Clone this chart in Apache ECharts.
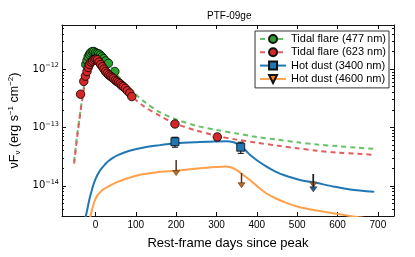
<!DOCTYPE html>
<html><head><meta charset="utf-8">
<script src="https://cdn.jsdelivr.net/npm/echarts@6/dist/echarts.min.js"></script>
<style>html,body{margin:0;padding:0;background:#fff}#c{width:415px;height:257px}</style>
</head><body><div id="c"></div>
<script>
// ---- data (days since peak, flux nuFnu in erg s^-1 cm^-2) ----
const xTicks = [0, 100, 200, 300, 400, 500, 600, 700];
const yTicks = [1e-14, 1e-13, 1e-12];

const greenModel = [[-53,2.6e-14],[-45,7.9e-14],[-37,2.0e-13],[-30,4.5e-13],[-25,7.1e-13],[-20,1.05e-12],[-15,1.41e-12],[-10,1.70e-12],[-5,1.86e-12],[0,1.91e-12],[10,1.82e-12],[20,1.58e-12],[30,1.32e-12],[40,1.05e-12],[50,8.5e-13],[70,6.0e-13],[90,4.3e-13],[120,2.8e-13],[160,1.82e-13],[200,1.38e-13],[250,1.07e-13],[300,9.1e-14],[350,7.9e-14],[400,6.9e-14],[450,6.2e-14],[500,5.6e-14],[550,5.1e-14],[600,4.8e-14],[650,4.5e-14],[690,4.3e-14]];
const redModel = [[-53,2.4e-14],[-45,7.1e-14],[-37,1.9e-13],[-30,4.0e-13],[-25,6.0e-13],[-20,8.5e-13],[-15,1.07e-12],[-10,1.26e-12],[-5,1.38e-12],[0,1.41e-12],[10,1.35e-12],[20,1.12e-12],[30,8.9e-13],[40,7.2e-13],[50,6.2e-13],[70,4.5e-13],[90,3.4e-13],[120,2.3e-13],[160,1.58e-13],[200,1.15e-13],[250,8.9e-14],[300,7.2e-14],[350,6.2e-14],[400,5.5e-14],[450,4.9e-14],[500,4.4e-14],[550,4.0e-14],[600,3.7e-14],[650,3.55e-14],[690,3.4e-14]];
const blueModel = [[-26,2.6e-15],[-22,3.5e-15],[-18,4.7e-15],[-14,6.3e-15],[-10,8.0e-15],[-5,1.05e-14],[0,1.3e-14],[5,1.55e-14],[11,1.82e-14],[18,2.1e-14],[25,2.4e-14],[33,2.7e-14],[44,3.05e-14],[57,3.4e-14],[70,3.7e-14],[94,4.15e-14],[120,4.55e-14],[152,4.9e-14],[199,5.35e-14],[250,5.6e-14],[300,5.75e-14],[325,5.8e-14],[340,5.65e-14],[352,5.25e-14],[362,4.7e-14],[373,4.0e-14],[383,3.4e-14],[400,2.75e-14],[424,2.14e-14],[445,1.78e-14],[465,1.55e-14],[507,1.26e-14],[540,1.15e-14],[589,9.8e-15],[631,8.7e-15],[691,7.9e-15]];
const orangeModel = [[-14,2.7e-15],[-9,3.8e-15],[-5,4.8e-15],[-1,5.75e-15],[4,6.75e-15],[10,7.6e-15],[19.5,8.7e-15],[35,1.0e-14],[52,1.15e-14],[80,1.35e-14],[110,1.55e-14],[150,1.7e-14],[199,1.82e-14],[259,2.0e-14],[300,2.1e-14],[322,2.14e-14],[335,2.08e-14],[348,1.9e-14],[360,1.66e-14],[372,1.43e-14],[383,1.26e-14],[400,1.0e-14],[424,7.4e-15],[445,6.2e-15],[465,5.4e-15],[507,4.3e-15],[548,3.8e-15],[589,3.4e-15],[639,3.0e-15],[690,2.7e-15]];

const greenObs = [[-24,1.20e-12],[-21,1.41e-12],[-18,1.62e-12],[-15,1.78e-12],[-12,1.91e-12],[-8,2.00e-12],[-4,2.00e-12],[0,1.91e-12],[4,1.86e-12],[8,1.82e-12],[12,1.74e-12],[16,1.62e-12],[20,1.51e-12],[25,1.38e-12],[32,1.26e-12],[48,9.1e-13]];
const redObs = [[-37,3.72e-13],[-29,6.17e-13],[-25,7.59e-13],[-21,9.12e-13],[-18,1.07e-12],[-15,1.20e-12],[-11,1.32e-12],[-7,1.38e-12],[-3,1.45e-12],[1,1.48e-12],[5,1.45e-12],[9,1.32e-12],[13,1.20e-12],[17,1.10e-12],[21,1.00e-12],[25,9.12e-13],[29,8.51e-13],[33,7.94e-13],[37,7.59e-13],[41,7.24e-13],[45,6.92e-13],[49,6.46e-13],[53,6.17e-13],[57,5.89e-13],[61,5.62e-13],[65,5.25e-13],[69,5.01e-13],[74,4.68e-13],[79,4.27e-13],[85,3.89e-13],[90,3.39e-13],[197,1.15e-13],[302,6.9e-14]];
const redErr = [[302,6.0e-14,7.8e-14]];
const blueObs = [[197,5.7e-14],[360,4.6e-14]];
const blueErr = [[197,4.6e-14,6.8e-14],[360,3.6e-14,5.6e-14]];
// upper limits: [day, limit value, arrow end value]
const orangeLimits = [[200,2.78e-14,1.5e-14],[362,1.66e-14,9.3e-15],[540,1.6e-14,9.5e-15]];
const blueLimits = [[540,1.6e-14,7.9e-15]];

const names = ['Tidal flare (477 nm)','Tidal flare (623 nm)','Hot dust (3400 nm)','Hot dust (4600 nm)'];

// ---- chart ----
const X_MIN = -83, X_MAX = 740, Y_MIN = 3.05e-15, Y_MAX = 5.7e-12;
const minorY = [];
for (let e = -15; e <= -12; e++) for (let k = 2; k <= 9; k++) { const v = k * Math.pow(10, e); if (v > Y_MIN && v < Y_MAX) minorY.push(v); }
const FONT = '"Liberation Sans", Arial, sans-serif';
const AX = '#111';

function expLabel(v) { const e = Math.round(Math.log10(v)); return '{b|10}{s|\u2212' + Math.abs(e) + '}'; }

function xAx(pos, main) {
  return {
    type: 'value', min: X_MIN, max: X_MAX, position: pos,
    axisLine: {show: true, onZero: false, lineStyle: {color: AX, width: 1}},
    axisTick: {show: true, inside: true, length: 4, customValues: xTicks, lineStyle: {color: AX}},
    axisLabel: main ? {customValues: xTicks, fontSize: 10, color: '#000', margin: 4, fontFamily: FONT} : {show: false},
    splitLine: {show: false},
    name: main ? 'Rest-frame days since peak' : '', nameLocation: 'middle', nameGap: 21,
    nameTextStyle: {fontSize: 13, color: '#000', fontFamily: FONT}
  };
}
function yAx(pos, minor, main) {
  return {
    type: 'log', logBase: 10, min: Y_MIN, max: Y_MAX, position: pos,
    axisLine: {show: !minor, onZero: false, lineStyle: {color: AX, width: 1}},
    axisTick: {show: true, inside: true, length: minor ? 2 : 4, customValues: minor ? minorY : yTicks, lineStyle: {color: AX}},
    axisLabel: main ? {customValues: yTicks, formatter: expLabel, margin: 3, color: '#000',
      rich: {b: {fontSize: 10, fontFamily: '"DejaVu Sans", sans-serif', color: '#000'},
             s: {fontSize: 6.5, fontFamily: '"DejaVu Sans", sans-serif', color: '#000', padding: [0, 0, 7, 0]}}} : {show: false},
    splitLine: {show: false}, minorTick: {show: false},
    name: main ? '\u03bdF{sub|\u03bd} (erg s{sup|\u22121} cm{sup|\u22122})' : '',
    nameLocation: 'middle', nameRotate: 90, nameGap: 33,
    nameTextStyle: {fontSize: 12.5, color: '#000', fontFamily: FONT,
      rich: {sub: {fontSize: 8, fontFamily: FONT, color: '#000', padding: [6, 0, 0, 0]},
             sup: {fontSize: 8, fontFamily: FONT, color: '#000', padding: [0, 0, 7, 0]}}}
  };
}

function errRender(params, api) {
  const x = api.value(0), p1 = api.coord([x, api.value(1)]), p2 = api.coord([x, api.value(2)]);
  const st = {stroke: '#222', lineWidth: 1.2};
  return {type: 'group', children: [
    {type: 'line', shape: {x1: p1[0], y1: p1[1], x2: p2[0], y2: p2[1]}, style: st},
    {type: 'line', shape: {x1: p1[0] - 3, y1: p1[1], x2: p1[0] + 3, y2: p1[1]}, style: st},
    {type: 'line', shape: {x1: p2[0] - 3, y1: p2[1], x2: p2[0] + 3, y2: p2[1]}, style: st}
  ]};
}
function arrowRender(shaft, head) {
  return function (params, api) {
    const x = api.value(0), p1 = api.coord([x, api.value(1)]), p2 = api.coord([x, api.value(2)]);
    return {type: 'group', children: [
      {type: 'line', shape: {x1: p1[0], y1: p1[1], x2: p2[0], y2: p2[1] - 2}, style: {stroke: shaft, lineWidth: 1.5}},
      {type: 'polygon', shape: {points: [[p2[0] - 3.5, p2[1] - 5], [p2[0] + 3.5, p2[1] - 5], [p2[0], p2[1]]]}, style: {fill: head, stroke: shaft, lineWidth: 0.6}}
    ]};
  };
}

const chart = echarts.init(document.getElementById('c'), null, {renderer: 'canvas'});
chart.setOption({
  animation: false,
  backgroundColor: '#fff',
  title: {text: 'PTF-09ge', left: 207, top: 11, padding: 0, textStyle: {fontSize: 10, fontWeight: 'normal', color: '#000', fontFamily: FONT}},
  grid: {left: 62, right: 21, top: 25, bottom: 41, containLabel: false, outerBoundsMode: 'none', show: false},
  legend: {
    data: names, orient: 'vertical', right: 26, top: 31,
    backgroundColor: '#fff', borderColor: '#333', borderWidth: 1, borderRadius: 0,
    padding: [2, 3, 3, 4], itemGap: 1.3, itemWidth: 26, itemHeight: 10,
    textStyle: {fontSize: 11, lineHeight: 12, color: '#000', fontFamily: FONT}
  },
  xAxis: [xAx('bottom', true), xAx('top', false)],
  yAxis: [yAx('left', false, true), yAx('left', true, false), yAx('right', false, false), yAx('right', true, false)],
  series: [
    {name: names[0], type: 'line', data: greenModel, smooth: 0.3, showSymbol: false, symbol: 'circle', symbolSize: 8, z: 2,
     lineStyle: {color: '#66c266', width: 2, type: [5, 4]}, itemStyle: {color: '#2ca02c', borderColor: '#111', borderWidth: 0.8}},
    {name: names[1], type: 'line', data: redModel, smooth: 0.3, showSymbol: false, symbol: 'circle', symbolSize: 8, z: 2,
     lineStyle: {color: '#e35d5e', width: 2, type: [5, 4]}, itemStyle: {color: '#d62728', borderColor: '#111', borderWidth: 0.8}},
    {name: names[2], type: 'line', data: blueModel, smooth: 0.3, showSymbol: false, symbol: 'rect', symbolSize: 8, z: 2,
     lineStyle: {color: '#1f77b4', width: 2}, itemStyle: {color: '#1f77b4', borderColor: '#111', borderWidth: 0.8}},
    {name: names[3], type: 'line', data: orangeModel, smooth: 0.3, showSymbol: false, symbol: 'path://M0,0 L10,0 L5,9 Z', symbolSize: 8, z: 2,
     lineStyle: {color: '#ffa04a', width: 2}, itemStyle: {color: '#ff7f0e', borderColor: '#111', borderWidth: 0.8}},
    {name: 'g477', type: 'scatter', data: greenObs, symbol: 'circle', symbolSize: 8.5, z: 4,
     itemStyle: {color: '#2ca02c', borderColor: '#000', borderWidth: 0.8, opacity: 1}},
    {name: 'e623', type: 'custom', data: redErr, renderItem: errRender, z: 4},
    {name: 'r623', type: 'scatter', data: redObs, symbol: 'circle', symbolSize: 8.5, z: 5,
     itemStyle: {color: '#d62728', borderColor: '#000', borderWidth: 0.8, opacity: 1}},
    {name: 'e3400', type: 'custom', data: blueErr, renderItem: errRender, z: 4},
    {name: 'b3400', type: 'scatter', data: blueObs, symbol: 'rect', symbolSize: 8, z: 5,
     itemStyle: {color: '#1f77b4', borderColor: '#000', borderWidth: 0.8, opacity: 1}},
    {name: 'l4600', type: 'custom', data: orangeLimits, renderItem: arrowRender('#4a3420', '#c26a1a'), z: 5},
    {name: 'l3400', type: 'custom', data: blueLimits, renderItem: arrowRender('#222', '#1f5f94'), z: 6}
  ]
});
</script></body></html>
